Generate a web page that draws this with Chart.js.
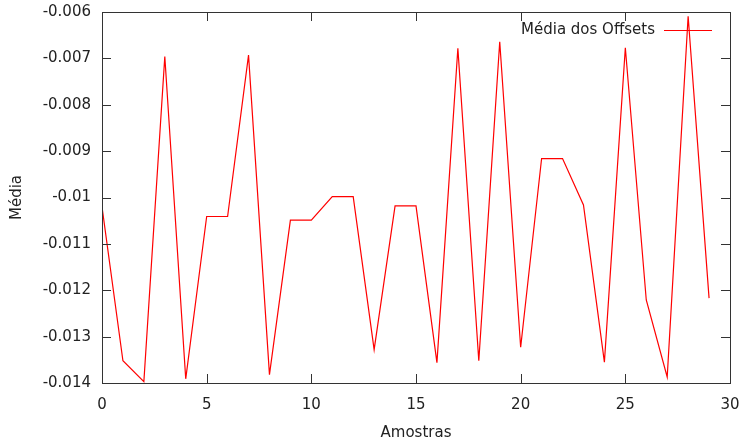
<!DOCTYPE html>
<html>
<head>
<meta charset="utf-8">
<script src="https://cdn.jsdelivr.net/npm/chart.js@4"></script>
<style>
  html, body { margin: 0; padding: 0; background: #fff; }
  #wrap { width: 742px; height: 442px; }
</style>
</head>
<body>
<div id="wrap"><canvas id="grafico"></canvas></div>
<script>
// --- dados ---
const amostras = [0, 1, 2, 3, 4, 5, 6, 7, 8, 9, 10, 11, 12, 13, 14, 15, 16, 17, 18, 19, 20, 21, 22, 23, 24, 25, 26, 27, 28, 29];
const medias = [-0.01020, -0.01352, -0.01397, -0.00696, -0.01391, -0.01041, -0.01041, -0.00693, -0.01382, -0.01049,
  -0.01049, -0.00998, -0.00998, -0.01328, -0.01018, -0.01018, -0.01356, -0.00678, -0.01352, -0.00664,
  -0.01323, -0.00916, -0.00916, -0.01016, -0.01355, -0.00677, -0.01221, -0.01387, -0.00609, -0.01217];
const xTicks = [0, 5, 10, 15, 20, 25, 30];
const yTicks = [-0.014, -0.013, -0.012, -0.011, -0.01, -0.009, -0.008, -0.007, -0.006];
const legenda = 'Média dos Offsets';

const FONTE = "'DejaVu Sans', sans-serif";
const TAM = 15;
const COR_TEXTO = '#222';

// moldura + ticks para dentro (estilo gnuplot)
const molduraPlugin = {
  id: 'moldura',
  afterDatasetsDraw(chart) {
    const { ctx, chartArea: a, scales } = chart;
    const tl = 9;
    ctx.save();
    ctx.strokeStyle = '#333';
    ctx.lineWidth = 1;
    ctx.beginPath();
    xTicks.forEach(v => {
      const x = Math.round(scales.x.getPixelForValue(v)) + 0.5;
      ctx.moveTo(x, a.bottom); ctx.lineTo(x, a.bottom - tl);
      ctx.moveTo(x, a.top); ctx.lineTo(x, a.top + tl);
    });
    yTicks.forEach(v => {
      const y = Math.round(scales.y.getPixelForValue(v)) + 0.5;
      ctx.moveTo(a.left, y); ctx.lineTo(a.left + tl, y);
      ctx.moveTo(a.right, y); ctx.lineTo(a.right - tl, y);
    });
    ctx.stroke();
    ctx.strokeRect(Math.round(a.left) + 0.5, Math.round(a.top) + 0.5,
      Math.round(a.right - a.left), Math.round(a.bottom - a.top));

    // legenda
    ctx.font = TAM + 'px ' + FONTE;
    ctx.fillStyle = COR_TEXTO;
    ctx.textAlign = 'right';
    ctx.textBaseline = 'middle';
    ctx.fillText(legenda, a.right - 75, a.top + 18);
    ctx.strokeStyle = '#ff0000';
    ctx.beginPath();
    ctx.moveTo(a.right - 66, a.top + 18.5);
    ctx.lineTo(a.right - 18, a.top + 18.5);
    ctx.stroke();
    ctx.restore();
  }
};

new Chart(document.getElementById('grafico'), {
  type: 'line',
  data: {
    datasets: [{
      label: legenda,
      data: amostras.map((x, i) => ({ x: x, y: medias[i] })),
      borderColor: '#ff0000',
      borderWidth: 1.2,
      pointRadius: 0,
      tension: 0,
      fill: false
    }]
  },
  options: {
    responsive: true,
    maintainAspectRatio: false,
    animation: false,
    layout: { padding: { left: 0, right: 12, top: 12, bottom: 0 } },
    plugins: { legend: { display: false }, tooltip: { enabled: false } },
    scales: {
      x: {
        type: 'linear',
        min: 0, max: 30,
        afterBuildTicks: s => { s.ticks = xTicks.map(v => ({ value: v })); },
        afterFit: s => { s.height = 59; s.paddingLeft = 0; s.paddingRight = 0; },
        grid: { display: false, drawTicks: false },
        border: { display: false },
        ticks: { color: COR_TEXTO, font: { family: FONTE, size: TAM }, padding: 13, maxRotation: 0 },
        title: { display: true, text: 'Amostras', color: COR_TEXTO, font: { family: FONTE, size: TAM }, padding: { top: 4, bottom: 0 } }
      },
      y: {
        type: 'linear',
        min: -0.014, max: -0.006,
        afterBuildTicks: s => { s.ticks = yTicks.map(v => ({ value: v })); },
        afterFit: s => { s.width = 102; s.paddingTop = 0; s.paddingBottom = 0; },
        grid: { display: false, drawTicks: false },
        border: { display: false },
        ticks: { color: COR_TEXTO, font: { family: FONTE, size: TAM }, padding: 11,
          callback: v => String(Math.round(v * 1000) / 1000) },
        title: { display: true, text: 'Média', color: COR_TEXTO, font: { family: FONTE, size: TAM }, padding: { top: 8, bottom: 4 } }
      }
    }
  },
  plugins: [molduraPlugin]
});
</script>
</body>
</html>
